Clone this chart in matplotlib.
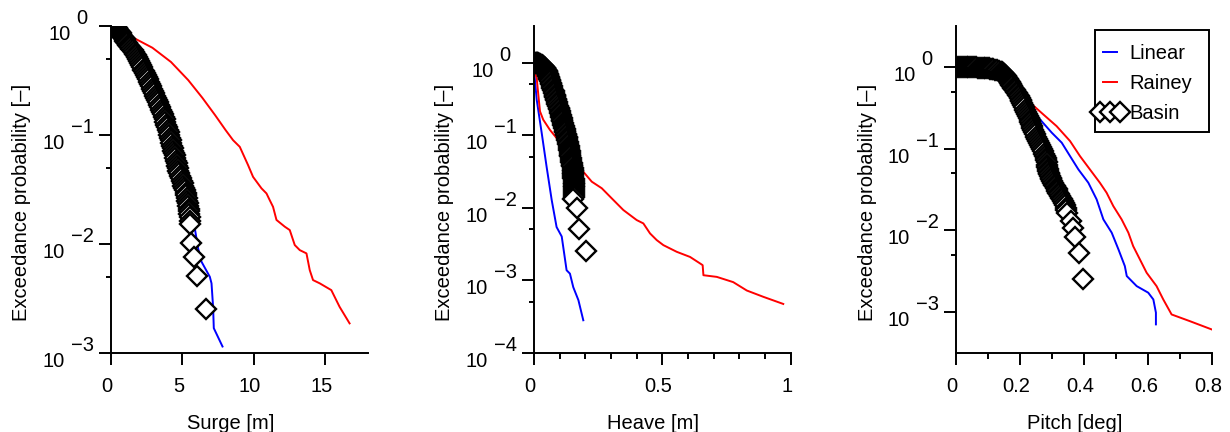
import matplotlib
matplotlib.use("Agg")
import matplotlib.pyplot as plt
from matplotlib.ticker import FixedLocator, NullFormatter
from matplotlib.transforms import offset_copy, ScaledTranslation
from matplotlib.legend_handler import HandlerLine2D
from matplotlib.patches import Rectangle

# ---------------- data ----------------
# Panel 1: Surge [m]
lin1_x = [0.0, 1.0, 2.0, 3.0, 4.0, 5.0, 5.6, 5.87, 6.10, 6.34, 6.92, 7.04, 7.15, 7.20, 7.81]
lin1_p = [1.0, 0.75, 0.45, 0.25, 0.11, 0.04, 0.02, 0.0139, 0.0091, 0.00685, 0.00499, 0.00434,
          0.00264, 0.00168, 0.00114]
ray1_x = [0.0, 0.8, 1.45, 2.9, 4.2, 5.41, 6.4, 7.3, 8.03, 8.55, 9.02, 9.60, 9.95, 10.54, 10.89,
          11.12, 11.35, 11.59, 12.17, 12.52, 12.87, 13.22, 13.69, 13.92, 14.15, 14.62, 15.43,
          16.01, 16.71]
ray1_p = [1.0, 0.93, 0.80, 0.635, 0.47, 0.32, 0.22, 0.152, 0.111, 0.0898, 0.078, 0.053, 0.0413,
          0.0324, 0.0291, 0.0252, 0.0219, 0.0166, 0.0144, 0.0134, 0.00976, 0.00877, 0.00818,
          0.00574, 0.00465, 0.00434, 0.00376, 0.00264, 0.00186]
bas1_x = [0.30, 0.35, 0.40, 0.45, 0.50, 0.56, 0.62, 0.67, 0.73, 0.78, 0.84, 0.89, 0.95, 1.00,
          1.06, 1.13, 1.20, 1.27, 1.35, 1.43, 1.51, 1.59, 1.68, 1.74, 1.81, 1.87, 1.94, 2.01,
          2.08, 2.16, 2.24, 2.30, 2.37, 2.44, 2.51, 2.58, 2.66, 2.74, 2.83, 2.89, 2.96, 3.03,
          3.09, 3.15, 3.21, 3.28, 3.34, 3.41, 3.49, 3.55, 3.62, 3.68, 3.75, 3.81, 3.87, 3.92,
          3.98, 4.03, 4.09, 4.14, 4.19, 4.23, 4.28, 4.32, 4.37, 4.41, 4.45, 4.51, 4.56, 4.60,
          4.64, 4.68, 4.72, 4.76, 4.81, 4.87, 4.94, 5.01, 5.07, 5.13, 5.18, 5.22, 5.26, 5.31,
          5.35, 5.38, 5.41, 5.44, 5.46, 5.48, 5.50, 5.51, 5.52, 5.57, 5.83, 6.03, 6.64]
bas1_p = [1.0, 0.98, 0.96, 0.94, 0.92, 0.90, 0.88, 0.86, 0.84, 0.82, 0.80, 0.78, 0.76, 0.74,
          0.72, 0.70, 0.68, 0.66, 0.64, 0.62, 0.60, 0.58, 0.56, 0.54, 0.52, 0.50, 0.48, 0.46,
          0.44, 0.42, 0.40, 0.385, 0.37, 0.355, 0.34, 0.325, 0.31, 0.295, 0.28, 0.268, 0.255,
          0.242, 0.23, 0.22, 0.21, 0.20, 0.19, 0.18, 0.17, 0.162, 0.155, 0.147, 0.14, 0.132,
          0.125, 0.118, 0.112, 0.106, 0.10, 0.095, 0.09, 0.085, 0.08, 0.076, 0.072, 0.068,
          0.065, 0.061, 0.058, 0.055, 0.052, 0.0495, 0.047, 0.0445, 0.042, 0.040, 0.038, 0.036,
          0.034, 0.0325, 0.031, 0.0295, 0.028, 0.0265, 0.025, 0.0237, 0.0225, 0.021, 0.020,
          0.0187, 0.0175, 0.0163, 0.0152, 0.0102, 0.0076, 0.0051, 0.0025]

# Panel 2: Heave [m]
lin2_x = [0.0, 0.0105, 0.030, 0.049, 0.069, 0.088, 0.108, 0.127, 0.140, 0.153, 0.173, 0.192]
lin2_p = [0.8, 0.308, 0.107, 0.0368, 0.0127, 0.0054, 0.0040, 0.00137, 0.00123, 0.00080,
          0.00053, 0.00028]
ray2_x = [0.0, 0.0105, 0.0168, 0.0234, 0.036, 0.062, 0.088, 0.13, 0.186, 0.225, 0.264, 0.296,
          0.348, 0.400, 0.426, 0.452, 0.478, 0.504, 0.556, 0.608, 0.647, 0.657, 0.660, 0.712,
          0.776, 0.829, 0.893, 0.971]
ray2_p = [0.80, 0.614, 0.36, 0.212, 0.163, 0.118, 0.091, 0.055, 0.0331, 0.0228, 0.0185, 0.0142,
          0.00927, 0.00674, 0.00606, 0.00441, 0.00357, 0.00304, 0.00246, 0.00209, 0.00170,
          0.00161, 0.00117, 0.00111, 0.00094, 0.00072, 0.00059, 0.00047]
bas2_x = [0.005, 0.008, 0.010, 0.013, 0.015, 0.018, 0.020, 0.023, 0.025, 0.028, 0.030, 0.033,
          0.035, 0.037, 0.039, 0.041, 0.042, 0.044, 0.046, 0.048, 0.049, 0.051, 0.052, 0.054,
          0.055, 0.056, 0.057, 0.059, 0.060, 0.062, 0.064, 0.066, 0.067, 0.069, 0.071, 0.074,
          0.076, 0.078, 0.080, 0.082, 0.083, 0.085, 0.087, 0.089, 0.091, 0.094, 0.096, 0.099,
          0.101, 0.103, 0.105, 0.107, 0.108, 0.110, 0.111, 0.113, 0.114, 0.116, 0.117, 0.119,
          0.121, 0.122, 0.123, 0.125, 0.127, 0.129, 0.130, 0.132, 0.134, 0.136, 0.137, 0.138,
          0.139, 0.140, 0.141, 0.142, 0.143, 0.144, 0.145, 0.147, 0.148, 0.149, 0.150, 0.151,
          0.152, 0.152, 0.153, 0.153, 0.153, 0.154, 0.154, 0.155, 0.155, 0.155, 0.155, 0.155,
          0.155, 0.155, 0.154, 0.154, 0.153, 0.1675, 0.1765, 0.2026]
bas2_p = [1.0, 0.995, 0.99, 0.985, 0.98, 0.97, 0.96, 0.95, 0.94, 0.93, 0.92, 0.91, 0.90, 0.885,
          0.87, 0.855, 0.84, 0.82, 0.80, 0.78, 0.76, 0.74, 0.72, 0.70, 0.68, 0.66, 0.64, 0.62,
          0.60, 0.575, 0.55, 0.525, 0.50, 0.475, 0.45, 0.425, 0.40, 0.38, 0.36, 0.345, 0.33,
          0.315, 0.30, 0.285, 0.27, 0.255, 0.24, 0.226, 0.212, 0.20, 0.19, 0.18, 0.17, 0.162,
          0.155, 0.147, 0.14, 0.133, 0.127, 0.121, 0.115, 0.11, 0.105, 0.10, 0.095, 0.09,
          0.085, 0.08, 0.075, 0.071, 0.067, 0.063, 0.06, 0.057, 0.054, 0.051, 0.048, 0.0455,
          0.043, 0.041, 0.039, 0.037, 0.035, 0.0335, 0.032, 0.0305, 0.029, 0.0275, 0.026,
          0.0245, 0.023, 0.022, 0.021, 0.020, 0.019, 0.018, 0.017, 0.016, 0.015, 0.014, 0.0131,
          0.0099, 0.0051, 0.00255]

# Panel 3: Pitch [deg]
lin3_x = [0.0, 0.10, 0.18, 0.2257, 0.262, 0.299, 0.330, 0.356, 0.382, 0.413, 0.439, 0.460,
          0.486, 0.507, 0.527, 0.533, 0.564, 0.600, 0.616, 0.624, 0.624]
lin3_p = [1.0, 0.85, 0.55, 0.349, 0.229, 0.157, 0.1185, 0.0811, 0.0557, 0.0383, 0.0239, 0.0136,
          0.00935, 0.00584, 0.00364, 0.00275, 0.00207, 0.00172, 0.00142, 0.00098, 0.000703]
ray3_x = [0.0, 0.10, 0.18, 0.215, 0.2257, 0.2725, 0.314, 0.356, 0.387, 0.418, 0.449, 0.470,
          0.491, 0.517, 0.538, 0.553, 0.574, 0.595, 0.626, 0.647, 0.673, 0.730, 0.798]
ray3_p = [1.0, 0.85, 0.55, 0.44, 0.383, 0.263, 0.189, 0.124, 0.0811, 0.0557, 0.0383, 0.0289,
          0.0198, 0.0136, 0.00935, 0.0064, 0.0044, 0.00302, 0.00207, 0.00142, 0.00093,
          0.00077, 0.00061]
bas3_x = [0.003, 0.009, 0.015, 0.021, 0.027, 0.033, 0.039, 0.045, 0.051, 0.057, 0.063, 0.069,
          0.075, 0.081, 0.087, 0.092, 0.097, 0.102, 0.107, 0.112, 0.117, 0.122, 0.128, 0.135,
          0.140, 0.144, 0.147, 0.150, 0.153, 0.155, 0.157, 0.159, 0.161, 0.163, 0.165, 0.167,
          0.169, 0.171, 0.173, 0.175, 0.177, 0.180, 0.183, 0.186, 0.189, 0.193, 0.196, 0.199,
          0.2015, 0.204, 0.2065, 0.209, 0.212, 0.215, 0.218, 0.221, 0.224, 0.227, 0.2295,
          0.232, 0.234, 0.236, 0.238, 0.241, 0.244, 0.247, 0.250, 0.253, 0.256, 0.259, 0.262,
          0.265, 0.268, 0.271, 0.274, 0.278, 0.2795, 0.281, 0.2825, 0.284, 0.2855, 0.287,
          0.2885, 0.290, 0.2915, 0.293, 0.295, 0.297, 0.2995, 0.302, 0.305, 0.309, 0.3115,
          0.314, 0.3165, 0.319, 0.322, 0.325, 0.328, 0.331, 0.3345, 0.338, 0.340, 0.342,
          0.3435, 0.345, 0.358, 0.364, 0.371, 0.384, 0.397]
bas3_p = [1.0, 0.999, 0.998, 0.997, 0.996, 0.995, 0.994, 0.993, 0.992, 0.991, 0.99, 0.988,
          0.986, 0.984, 0.982, 0.98, 0.975, 0.97, 0.96, 0.95, 0.94, 0.93, 0.915, 0.90, 0.88,
          0.86, 0.84, 0.82, 0.80, 0.78, 0.76, 0.74, 0.72, 0.70, 0.68, 0.66, 0.64, 0.62, 0.60,
          0.58, 0.56, 0.54, 0.52, 0.50, 0.48, 0.46, 0.44, 0.42, 0.40, 0.38, 0.36, 0.34, 0.32,
          0.30, 0.285, 0.27, 0.255, 0.24, 0.225, 0.21, 0.20, 0.189, 0.18, 0.17, 0.16, 0.15,
          0.141, 0.133, 0.126, 0.1185, 0.112, 0.105, 0.099, 0.093, 0.087, 0.081, 0.076, 0.072,
          0.068, 0.064, 0.06, 0.057, 0.054, 0.051, 0.0485, 0.0461, 0.044, 0.042, 0.040, 0.038,
          0.0363, 0.0348, 0.0333, 0.032, 0.0305, 0.029, 0.0275, 0.0262, 0.025, 0.024, 0.023,
          0.0218, 0.0204, 0.019, 0.0177, 0.0164, 0.013, 0.0108, 0.0082, 0.0052, 0.0025]

xlabels = ["Surge [m]", "Heave [m]", "Pitch [deg]"]
ylabel = "Exceedance probability [\u2013]"
series_names = ["Linear", "Rainey", "Basin"]
xticks_major = [[0, 5, 10, 15], [0, 0.5, 1], [0, 0.2, 0.4, 0.6, 0.8]]
xtick_labels = [["0", "5", "10", "15"], ["0", "0.5", "1"], ["0", "0.2", "0.4", "0.6", "0.8"]]
xticks_minor = [[], [0.1, 0.2, 0.3, 0.4, 0.6, 0.7, 0.8, 0.9], [0.1, 0.3, 0.5, 0.7]]
xlims = [(0, 18), (0, 1), (0, 0.8)]
ylims = [(1e-3, 1.0), (1e-4, 10 ** 0.5), (10 ** -3.5, 10 ** 0.5)]
ydecades = [[-3, -2, -1, 0], [-4, -3, -2, -1, 0], [-3, -2, -1, 0]]

# ---------------- style ----------------
plt.rcParams['font.family'] = ['Liberation Sans', 'DejaVu Sans']
FS = 14.5
BLUE = (0, 0, 1)
RED = (1, 0, 0)

W, H = 1230, 432
fig = plt.figure(figsize=(W / 100, H / 100), dpi=100)


def pos(left, right, top, bottom):
    return [left / W, 1 - bottom / H, (right - left) / W, (bottom - top) / H]


axes = [fig.add_axes(pos(111, 368, 26.3, 352.7)),
        fig.add_axes(pos(534, 790.7, 26.3, 352.7)),
        fig.add_axes(pos(956, 1212.3, 26.3, 352.7))]

data = [(lin1_x, lin1_p, ray1_x, ray1_p, bas1_x, bas1_p),
        (lin2_x, lin2_p, ray2_x, ray2_p, bas2_x, bas2_p),
        (lin3_x, lin3_p, ray3_x, ray3_p, bas3_x, bas3_p)]

renderer = fig.canvas.get_renderer()
handles = None
for i, ax in enumerate(axes):
    lx, lp, rx, rp, bx, bp = data[i]
    h1, = ax.plot(lx, lp, color=BLUE, lw=1.4, label=series_names[0])
    h2, = ax.plot(rx, rp, color=RED, lw=1.4, label=series_names[1])
    h3, = ax.plot(bx, bp, ls='none', marker='D', ms=10.5, mfc='white', mec='black', mew=1.7,
                  label=series_names[2])
    if i == 2:
        handles = (h1, h2, h3)
    ax.set_yscale('log')
    ax.set_xlim(*xlims[i])
    ax.set_ylim(*ylims[i])
    for s in ['top', 'right']:
        ax.spines[s].set_visible(False)
    for s in ['left', 'bottom']:
        ax.spines[s].set_linewidth(1.4)
    ax.set_xticks(xticks_major[i], xtick_labels[i])
    ax.xaxis.set_minor_locator(FixedLocator(xticks_minor[i]))
    ax.yaxis.set_major_locator(FixedLocator([10.0 ** e for e in ydecades[i]]))
    ax.yaxis.set_minor_locator(FixedLocator([5 * 10.0 ** e for e in ydecades[i]]))
    ax.yaxis.set_major_formatter(NullFormatter())
    ax.yaxis.set_minor_formatter(NullFormatter())
    ax.tick_params(which='both', direction='out', width=1.4, labelsize=FS)
    ax.tick_params(which='major', length=8.5)
    ax.tick_params(axis='y', which='minor', length=3.6)
    ax.tick_params(axis='x', which='minor', length=4.5)
    ax.tick_params(axis='x', pad=9)
    for lab in ax.get_xticklabels():
        lab.set_transform(lab.get_transform() + ScaledTranslation(-4 / 100, 0, fig.dpi_scale_trans))

    ax.set_xlabel(xlabels[i], fontsize=FS)
    ax.xaxis.set_label_coords(0.465, -0.187)
    ax.set_ylabel(ylabel, fontsize=FS)
    ax.yaxis.set_label_coords(-0.31, 0.46)

    # MATLAB-style "10^n" tick labels
    tr = ax.get_yaxis_transform()
    for e in ydecades[i]:
        es = str(e).replace('-', '\u2212')
        tb = ax.text(0, 10.0 ** e, '10', fontsize=FS, ha='left', va='baseline', transform=tr)
        te = ax.text(0, 10.0 ** e, es, fontsize=FS, ha='left', va='baseline', transform=tr)
        wb = tb.get_window_extent(renderer).width
        we = te.get_window_extent(renderer).width
        left = -43 - (wb + 6 + we) / 2
        tb.set_transform(offset_copy(tr, fig=fig, x=left * 0.72, y=-14 * 0.72, units='points'))
        te.set_transform(offset_copy(tr, fig=fig, x=(left + wb + 6) * 0.72, y=2 * 0.72,
                                     units='points'))

# legend (frame drawn as a rectangle like the MATLAB box)
ax3 = axes[2]
rect = Rectangle((0.542, 0.6755), 0.987 - 0.542, 0.988 - 0.6755, transform=ax3.transAxes,
                 facecolor='white', edgecolor='black', lw=1.4, zorder=4, clip_on=False)
ax3.add_patch(rect)
leg = ax3.legend(handles, series_names, loc='upper left', bbox_to_anchor=(0.550, 0.945),
                 frameon=False, borderpad=0, borderaxespad=0, handlelength=1.3,
                 handletextpad=0.3, labelspacing=0.55, fontsize=FS, numpoints=3,
                 handler_map={handles[2]: HandlerLine2D(marker_pad=0.15, numpoints=3)})
leg.set_zorder(5)

fig.savefig('out.png', dpi=100)
